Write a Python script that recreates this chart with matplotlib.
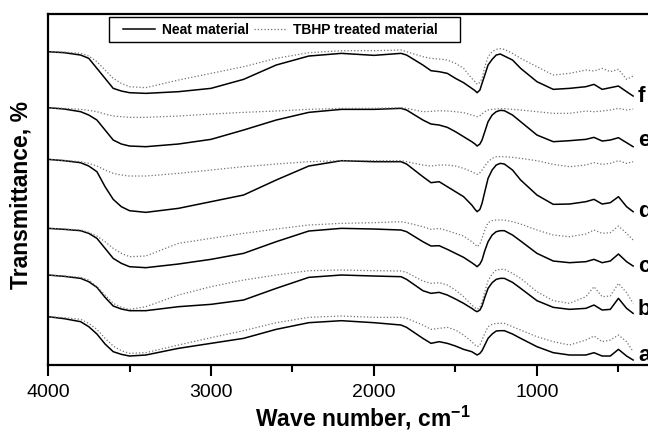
import matplotlib
matplotlib.use('Agg')
import matplotlib.pyplot as plt
from matplotlib.pyplot import MultipleLocator
from matplotlib.patches import Rectangle

plt.rcParams['font.family'] = ['Liberation Sans', 'DejaVu Sans']

# wave numbers (cm-1) where the curves were read
wave = [4000, 3900, 3800, 3750, 3700, 3650, 3600, 3550, 3500, 3400,
        3200, 3000, 2800, 2600, 2400, 2200, 2000, 1834, 1800, 1700,
        1650, 1600, 1550, 1500, 1450, 1400, 1380, 1367, 1350, 1337,
        1320, 1300, 1275, 1250, 1225, 1200, 1150, 1100, 1000, 900,
        800, 700, 650, 600, 550, 500, 450, 410]

# transmittance (offset, arbitrary units) - neat material
neat_f = [96.5, 96.2, 95.5, 94.5, 91.5, 88.5, 85.5, 84.7, 84.2, 84.0,
          84.5, 85.5, 88.2, 92.5, 95.2, 96.0, 95.4, 96.0, 95.5, 92.5,
          90.8, 90.5, 90.0, 88.5, 87.2, 85.5, 84.8, 84.2, 85.0, 87.0,
          89.5, 92.5, 94.2, 95.5, 95.8, 95.2, 94.0, 91.5, 87.5, 85.2,
          85.5, 86.0, 86.7, 85.2, 85.7, 86.2, 84.5, 83.2]
neat_e = [79.7, 79.3, 78.5, 77.5, 76.0, 73.0, 70.0, 68.8, 68.2, 68.0,
          68.8, 70.2, 73.0, 76.0, 78.3, 79.2, 79.2, 79.5, 79.0, 76.0,
          74.8, 74.5, 73.8, 72.5, 71.0, 69.5, 68.8, 68.2, 68.8, 70.0,
          72.5, 75.5, 77.5, 78.5, 78.9, 78.8, 77.5, 75.5, 71.5, 69.5,
          69.8, 70.2, 70.8, 69.7, 70.0, 70.7, 69.2, 68.0]
neat_d = [64.2, 63.8, 63.2, 62.2, 60.5, 56.0, 52.2, 50.0, 48.8, 48.3,
          49.5, 51.5, 53.5, 58.0, 62.2, 63.8, 63.5, 63.5, 62.8, 59.0,
          57.2, 57.5, 56.0, 54.5, 53.0, 50.5, 49.2, 48.5, 49.2, 51.0,
          54.5, 58.5, 61.0, 62.5, 63.0, 62.8, 61.0, 58.0, 53.5, 50.7,
          50.8, 51.5, 52.2, 50.8, 51.2, 53.0, 50.0, 48.5]
neat_c = [43.5, 43.2, 42.8, 42.0, 40.5, 37.5, 34.5, 33.0, 32.0, 31.7,
          32.8, 34.2, 36.0, 39.5, 42.7, 43.5, 43.3, 43.0, 42.5, 39.5,
          38.2, 38.3, 37.2, 36.0, 34.8, 33.2, 32.5, 32.0, 32.8, 34.0,
          36.8, 39.5, 41.5, 42.5, 42.8, 42.8, 41.5, 39.7, 36.0, 33.7,
          33.2, 33.5, 34.2, 33.2, 33.7, 35.8, 33.5, 32.2]
neat_b = [29.5, 29.1, 28.5, 27.5, 25.8, 22.8, 20.2, 19.3, 18.8, 18.8,
          20.0, 20.7, 22.0, 25.5, 28.8, 29.5, 29.2, 29.0, 28.2, 24.8,
          24.0, 24.3, 23.5, 22.3, 21.0, 19.5, 18.8, 18.5, 19.0, 20.2,
          22.8, 25.5, 27.2, 28.2, 28.5, 28.5, 27.3, 25.5, 21.8, 19.8,
          19.2, 19.5, 20.5, 19.0, 19.2, 22.5, 19.5, 18.0]
neat_a = [17.0, 16.4, 15.5, 14.0, 11.8, 8.8, 6.5, 5.7, 5.2, 5.5,
          7.5, 9.0, 10.5, 13.2, 15.2, 15.8, 15.2, 14.5, 13.8, 10.5,
          9.0, 9.5, 9.0, 8.2, 7.2, 6.5, 5.9, 5.5, 6.0, 6.8,
          8.5, 10.5, 11.8, 12.7, 12.8, 12.8, 11.8, 10.5, 8.0, 6.2,
          5.5, 5.5, 6.2, 5.2, 5.2, 7.2, 5.2, 4.0]

# TBHP treated material
tbhp_f = [96.5, 96.4, 96.0, 95.2, 93.5, 91.0, 88.5, 87.0, 86.0, 85.7,
          88.0, 90.0, 92.0, 94.5, 96.2, 96.8, 96.8, 97.0, 96.5, 95.0,
          94.5, 94.3, 94.0, 93.0, 91.5, 88.5, 87.5, 86.7, 87.3, 88.5,
          92.0, 95.0, 96.5, 97.2, 97.4, 97.2, 96.0, 94.5, 92.0, 89.5,
          90.0, 91.0, 90.7, 91.5, 90.5, 91.2, 88.2, 89.2]
tbhp_e = [79.7, 79.5, 79.2, 78.9, 78.5, 77.8, 77.2, 77.0, 76.8, 76.8,
          77.2, 77.8, 78.3, 78.7, 79.2, 79.5, 79.5, 79.7, 79.5, 78.5,
          78.6, 78.8, 78.7, 78.5, 78.2, 77.5, 77.2, 77.0, 77.3, 77.8,
          78.5, 79.0, 79.2, 79.3, 79.4, 79.4, 79.2, 79.0, 78.5, 78.0,
          78.0, 78.7, 78.5, 78.7, 79.0, 79.5, 79.0, 79.3]
tbhp_d = [64.2, 63.9, 63.5, 63.0, 62.2, 61.0, 60.0, 59.5, 59.2, 59.2,
          60.0, 61.0, 62.0, 62.8, 63.5, 63.8, 63.8, 63.8, 63.5, 62.5,
          62.2, 62.5, 62.5, 62.2, 61.5, 60.5, 60.0, 59.7, 60.2, 61.0,
          62.2, 63.5, 64.5, 65.0, 65.0, 65.0, 64.8, 64.5, 63.8, 62.7,
          62.0, 62.5, 63.2, 62.7, 63.0, 63.8, 63.0, 63.5]
tbhp_c = [43.5, 43.3, 43.0, 42.3, 41.2, 39.5, 37.5, 36.0, 35.0, 35.2,
          39.0, 40.5, 42.0, 43.3, 44.5, 45.0, 45.2, 45.5, 45.2, 44.0,
          43.2, 43.5, 42.8, 42.0, 41.2, 39.5, 38.7, 38.0, 38.8, 40.5,
          43.0, 45.2, 45.8, 46.0, 46.0, 46.0, 45.5, 44.8, 43.0, 41.5,
          41.0, 41.8, 43.0, 42.0, 42.2, 44.2, 42.0, 40.0]
tbhp_b = [29.5, 29.2, 28.8, 28.0, 26.0, 23.5, 21.0, 19.8, 19.2, 20.0,
          23.5, 26.0, 28.0, 29.5, 30.8, 31.0, 30.8, 30.7, 30.3, 27.7,
          27.0, 27.2, 26.5, 25.0, 23.0, 20.5, 19.7, 19.2, 19.8, 21.5,
          24.5, 27.8, 29.8, 31.0, 31.2, 31.2, 30.0, 28.5, 24.5, 21.8,
          21.0, 23.0, 26.0, 23.0, 23.2, 27.0, 24.2, 21.0]
tbhp_a = [17.0, 16.7, 16.2, 15.0, 13.2, 10.5, 8.2, 6.8, 6.0, 6.2,
          8.5, 10.7, 12.8, 15.2, 16.8, 17.2, 16.8, 16.8, 16.5, 14.5,
          13.2, 13.5, 13.8, 13.0, 11.5, 9.5, 8.5, 8.0, 8.5, 10.0,
          12.0, 14.0, 14.7, 15.0, 15.0, 15.0, 14.0, 13.0, 11.0, 9.5,
          8.5, 10.0, 11.2, 9.5, 10.0, 11.5, 9.5, 6.5]

sample_names = ['a', 'b', 'c', 'd', 'e', 'f']
name_y = [5.5, 19.2, 32.0, 48.5, 70.0, 83.0]

neat_list = [neat_a, neat_b, neat_c, neat_d, neat_e, neat_f]
tbhp_list = [tbhp_a, tbhp_b, tbhp_c, tbhp_d, tbhp_e, tbhp_f]

fig = plt.figure(figsize=(6.48, 4.33), dpi=100)
ax = fig.add_axes([0.0741, 0.157, 0.9306, 0.8106])

for i in range(len(neat_list)):
    lab1 = 'Neat material' if i == 0 else None
    lab2 = 'TBHP treated material' if i == 0 else None
    ax.plot(wave, neat_list[i], color='black', linewidth=1.1, label=lab1,
            solid_joinstyle='round')
    ax.plot(wave, tbhp_list[i], color='0.45', linewidth=0.9, linestyle=':', label=lab2)
    ax.text(380, name_y[i], sample_names[i], fontsize=16, fontweight='bold',
            ha='left', va='center', clip_on=False)

ax.set_xlim(4000, 300)
ax.set_ylim(2.5, 107.8)
ax.xaxis.set_major_locator(MultipleLocator(1000))
ax.xaxis.set_minor_locator(MultipleLocator(500))
ax.tick_params(axis='x', which='major', direction='out', length=8, width=1.5,
               labelsize=14, pad=6)
ax.tick_params(axis='x', which='minor', direction='out', length=5, width=1.5)
ax.set_yticks([])
for s in ax.spines.values():
    s.set_linewidth(1.6)

ax.set_xlabel('Wave number, cm$^{\\mathregular{-1}}$', fontsize=16.5, fontweight='bold')
ax.xaxis.set_label_coords(0.522, -0.111)
ax.set_ylabel('Transmittance, %', fontsize=16.5, fontweight='bold')
ax.yaxis.set_label_coords(-0.025, 0.484)

# legend without its own frame, box drawn separately (wider on the right like origin)
leg = ax.legend(loc='upper left', bbox_to_anchor=(0.115, 0.9915), borderaxespad=0,
                ncol=2, frameon=False, handlelength=2.3, columnspacing=0.36,
                handletextpad=0.5, borderpad=0.4, prop={'weight': 'bold', 'size': 10})
fig.patches.append(Rectangle((0.1682, 0.903), 0.5417, 0.0577, transform=fig.transFigure,
                             fill=False, edgecolor='black', linewidth=1.0))

fig.savefig('out.png', dpi=100)
